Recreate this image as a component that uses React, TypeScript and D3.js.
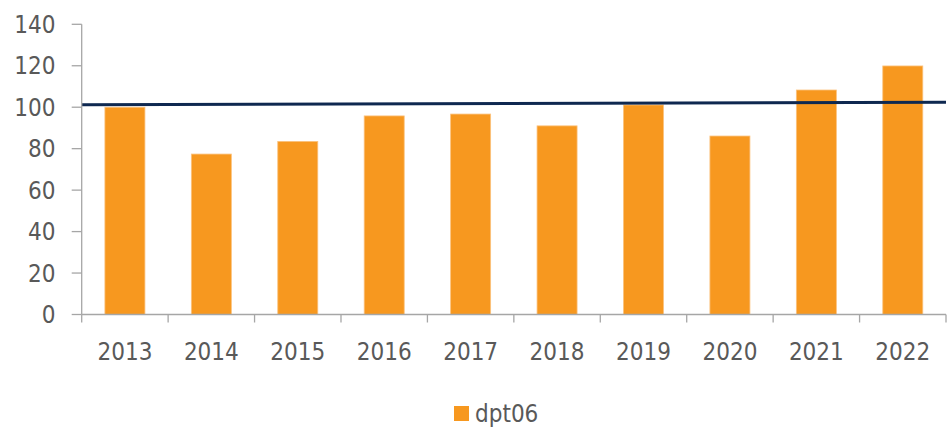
import React from "react";
import * as d3 from "d3";

const categories = ["2013", "2014", "2015", "2016", "2017", "2018", "2019", "2020", "2021", "2022"];
const values = [100, 77.4, 83.5, 95.8, 96.7, 91, 101.1, 86.1, 108.3, 119.9];
const trendValues = [101.2, 102.4];
const yTicks = [0, 20, 40, 60, 80, 100, 120, 140];
const seriesName = "dpt06";

const W = 947;
const H = 428;
const left = 81.7;
const right = 946;
const top = 24.3;
const bottom = 314.5;
const font = "'DejaVu Sans Condensed', 'DejaVu Sans', Verdana, sans-serif";
const textColor = "#595959";
const axisColor = "#a6a6a6";
const barColor = "#F7981F";

export default function App() {
  const x = d3.scaleBand<string>().domain(categories).range([left, right]).paddingInner(0.537).paddingOuter(0.2685);
  const y = d3.scaleLinear().domain([0, 140]).range([bottom, top]);
  const xl = d3.scaleLinear().domain([0, 1]).range([left, right]);
  const line = d3.line<number>().x((_, i) => xl(i)).y((d) => y(d));
  const step = x.step();
  return (
    <svg width={W} height={H} style={{ position: "absolute", left: 0, top: 0 }}>
      <rect width={W} height={H} fill="#fff" />
      {categories.map((c, i) => (
        <rect key={c} x={x(c)} y={y(values[i])} width={x.bandwidth()} height={y(0) - y(values[i])} fill={barColor} stroke="#FBC27E" strokeWidth={0.8} />
      ))}
      <path d={line(trendValues) || ""} stroke="#0E2850" strokeWidth={3.2} fill="none" />
      {/* y axis */}
      <line x1={left} x2={left} y1={top} y2={bottom} stroke={axisColor} strokeWidth={1.3} />
      {yTicks.map((t) => (
        <g key={t}>
          <line x1={left - 10} x2={left} y1={y(t)} y2={y(t)} stroke={axisColor} strokeWidth={1.3} />
          <text x={55.5} y={y(t)} dy="0.36em" textAnchor="end" fontFamily={font} fontSize={24} fill={textColor}>{t}</text>
        </g>
      ))}
      {/* x axis */}
      <line x1={left} x2={right} y1={bottom} y2={bottom} stroke={axisColor} strokeWidth={1.3} />
      {d3.range(categories.length + 1).map((i) => (
        <line key={i} x1={left + i * step} x2={left + i * step} y1={bottom} y2={bottom + 8} stroke={axisColor} strokeWidth={1.3} />
      ))}
      {categories.map((c) => (
        <text key={c} x={(x(c) || 0) + x.bandwidth() / 2} y={359.5} textAnchor="middle" fontFamily={font} fontSize={24} fill={textColor}>{c}</text>
      ))}
      {/* legend */}
      <rect x={454} y={406} width={15} height={15} fill={barColor} />
      <text x={475} y={421.5} fontFamily={font} fontSize={24} fill={textColor}>{seriesName}</text>
    </svg>
  );
}
